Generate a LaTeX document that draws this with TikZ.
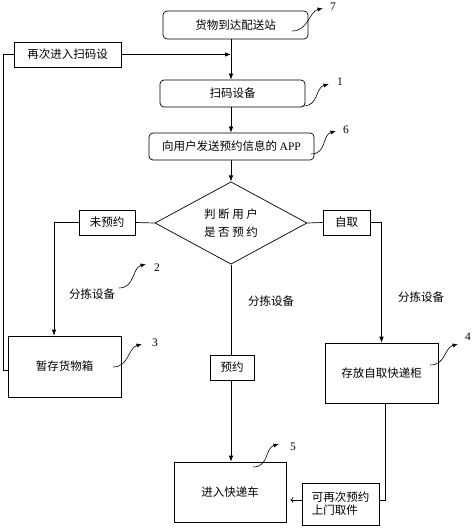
\documentclass[tikz,border=0pt]{standalone}
\usepackage{fontspec}
\setmainfont{Liberation Serif}
\newfontfamily\cjk{Noto Sans CJK SC}
\usetikzlibrary{shapes, arrows, arrows.meta, calc}

\begin{document}
\begin{tikzpicture}%
	[x={(1pt, 0pt)},
	y={(0pt, -1pt)},
	line width=0.7pt,
	box/.style={draw, inner sep=1pt, font=\cjk\fontsize{11.5}{13}\selectfont},
	roundbox/.style={box, rounded corners=4pt},
	decision/.style={box, diamond, inner sep=0pt, align=center},
	tag/.style={font=\cjk\fontsize{11.5}{13}\selectfont, inner sep=0pt},
	number/.style={font=\fontsize{11.5}{13}\selectfont, inner sep=0pt},
	flow/.style={-{Latex[length=6pt, width=4.5pt]}},
	link/.style={-},
	back/.style={-{To[length=3pt, width=6pt]}},
	pointer/.style={-{Latex[length=5.5pt, width=4pt]}, line width=0.6pt}]
%
\useasboundingbox (0,0) rectangle (474,529);
%
%% Main axis of the flow
%%
\coordinate (axis) at (231,0);
%%
%%
%% Drawing the boxes
%%
\node[roundbox, minimum width=145pt, minimum height=28pt] (arrive) at (235.5,25) {货物到达配送站};
\node[box, minimum width=107pt, minimum height=25pt] (again) at (67.5,54.5) {再次进入扫码设};
\node[roundbox, minimum width=145pt, minimum height=27pt] (scan) at (232.5,93.5) {扫码设备};
\node[roundbox, minimum width=165pt, minimum height=27pt] (app) at (231.5,146.5) {向用户发送预约信息的 {\rmfamily APP}};
\node[decision, minimum width=152pt, minimum height=76pt] (judge) at (231,223) {判 断 用 户\\[5pt]是 否 预 约};
\node[box, minimum width=56pt, minimum height=25pt] (noappt) at (107,222.5) {未预约};
\node[box, minimum width=47pt, minimum height=25pt] (self) at (346.5,222.5) {自取};
\node[box, minimum width=113pt, minimum height=61pt] (store) at (64.5,366.5) {暂存货物箱};
\node[box, minimum width=44pt, minimum height=25pt] (appt) at (232,367.5) {预约};
\node[box, minimum width=113pt, minimum height=60pt] (locker) at (381.5,373) {存放自取快递柜};
\node[box, minimum width=112pt, minimum height=60pt] (truck) at (230,492) {进入快递车};
\node[box, minimum width=77pt, minimum height=42pt, align=left] (rebook) at (340.5,504) {可再次预约\\上门取件};
%%
%%
%% Drawing the texts on the lines
%%
\node[tag] (sortl) at (92,294) {分拣设备};
\node[tag] (sortm) at (271,301) {分拣设备};
\node[tag] (sortr) at (421,297) {分拣设备};
%%
%%
%% Drawing the connectors
%%
\draw[flow] (arrive.south -| axis) -- (scan.north -| axis);
\draw[flow] (again.east) -- (again.east -| axis);
\draw[link] (again.west) -- ++(-10,0) |- ([yshift=-4pt]store.west);
\draw[flow] (scan.south -| axis) -- (app.north -| axis);
\draw[flow] (app.south -| axis) -- (judge.north);
\draw[link] (judge.west) -- (noappt.east);
\draw[flow] (noappt.west) -| ([xshift=-10.5pt]store.north);
\draw[link] (judge.east) -- (self.west);
\draw[flow] (self.east) -| (locker.north);
\draw[link] (judge.south) -- (appt.north -| judge.south);
\draw[flow] (appt.south -| judge.south) -- (truck.north -| judge.south);
\draw[link] ([xshift=4pt]locker.south) |- ([yshift=4pt]rebook.east);
\draw[back] ([yshift=4pt]rebook.west) -- ([yshift=4pt,xshift=4pt]rebook.west -| truck.east);
%%
%%
%% Drawing the reference numbers
%%
\coordinate (p7a) at (292,31);  \coordinate (p7b) at (323,8);
\coordinate (p1a) at (303,106); \coordinate (p1b) at (329,84);
\coordinate (p6a) at (311,154); \coordinate (p6b) at (336,131);
\coordinate (p2a) at (119,288); \coordinate (p2b) at (146,264);
\coordinate (p3a) at (113,367); \coordinate (p3b) at (142,344);
\coordinate (p4a) at (430,365); \coordinate (p4b) at (458,344);
\coordinate (p5a) at (253,467); \coordinate (p5b) at (279,444);
\draw[pointer] (p7a) .. controls +(16,0) and +(-14,4) .. (p7b);
\draw[pointer] (p1a) .. controls +(16,0) and +(-14,4) .. (p1b);
\draw[pointer] (p6a) .. controls +(16,0) and +(-14,4) .. (p6b);
\draw[pointer] (p2a) .. controls +(16,0) and +(-14,4) .. (p2b);
\draw[pointer] (p3a) .. controls +(16,0) and +(-14,4) .. (p3b);
\draw[pointer] (p4a) .. controls +(16,0) and +(-14,4) .. (p4b);
\draw[pointer] (p5a) .. controls +(16,0) and +(-14,4) .. (p5b);
\node[number] (n7) at (333,7) {7};
\node[number] (n1) at (340,82) {1};
\node[number] (n6) at (346,130) {6};
\node[number] (n2) at (157,268) {2};
\node[number] (n3) at (155,343) {3};
\node[number] (n4) at (468,337) {4};
\node[number] (n5) at (293,447) {5};
%%
%%
\end{tikzpicture}
\end{document}
